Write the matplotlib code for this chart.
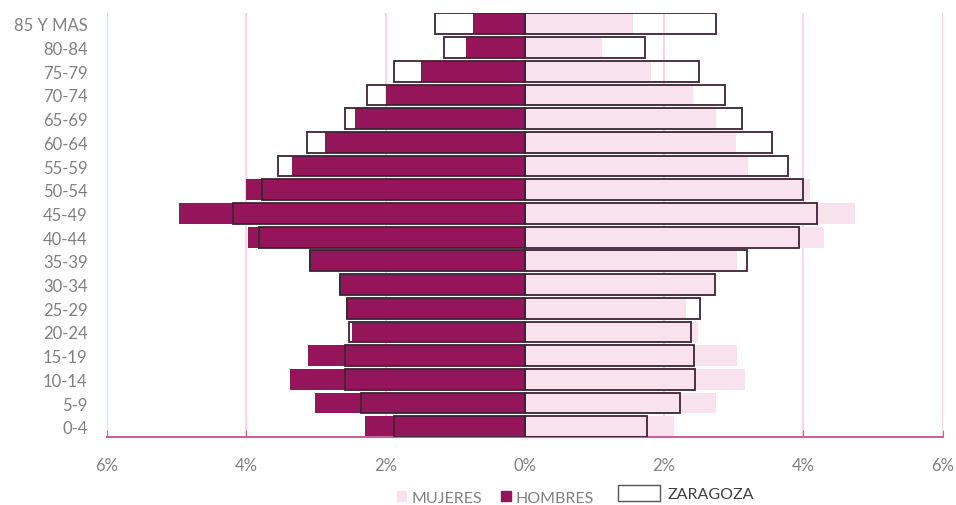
import matplotlib.pyplot as plt
from matplotlib.patches import Patch
import numpy as np

plt.rcParams['font.family'] = ['Lato', 'DejaVu Sans']

edades = ['0-4', '5-9', '10-14', '15-19', '20-24', '25-29', '30-34', '35-39',
          '40-44', '45-49', '50-54', '55-59', '60-64', '65-69', '70-74',
          '75-79', '80-84', '85 Y MAS']

# porcentaje sobre el total (barrio)
hombres = [2.29, 3.01, 3.37, 3.11, 2.48, 2.57, 2.67, 3.10, 3.97, 4.97,
           4.01, 3.34, 2.87, 2.44, 1.99, 1.49, 0.84, 0.75]
mujeres = [2.14, 2.75, 3.16, 3.05, 2.48, 2.31, 2.72, 3.05, 4.29, 4.74,
           4.09, 3.20, 3.03, 2.75, 2.42, 1.81, 1.11, 1.56]

# Zaragoza
zgz_hombres = [1.88, 2.36, 2.59, 2.58, 2.53, 2.56, 2.66, 3.08, 3.82, 4.19,
               3.77, 3.55, 3.13, 2.59, 2.27, 1.88, 1.16, 1.29]
zgz_mujeres = [1.75, 2.23, 2.44, 2.43, 2.39, 2.52, 2.73, 3.19, 3.94, 4.19,
               3.99, 3.78, 3.55, 3.12, 2.87, 2.50, 1.73, 2.74]

c_hom = '#94155a'
c_muj = '#f7e2ee'
c_grid = '#fbcde3'
c_eje = '#c9609a'
c_txt = '#808080'
c_borde = '#3d2434'

y = np.arange(len(edades))
h = 0.88

fig = plt.figure(figsize=(9.56, 5.06), dpi=100)
ax = fig.add_axes([0.112, 0.134, 0.874, 0.838])

ax.barh(y, -np.array(hombres), height=h, color=c_hom, zorder=2)
ax.barh(y, mujeres, height=h, color=c_muj, zorder=2)
ax.barh(y, -np.array(zgz_hombres), height=h, facecolor='none',
        edgecolor=c_borde, linewidth=1.3, zorder=3)
ax.barh(y, zgz_mujeres, height=h, facecolor='none',
        edgecolor=c_borde, linewidth=1.3, zorder=3)

ax.set_xlim(-6, 6)
ax.set_ylim(-0.44, len(edades) - 0.55)
xt = [-6, -4, -2, 0, 2, 4, 6]
ax.set_xticks(xt)
ax.set_xticklabels([f'{abs(v)}%' for v in xt], color=c_txt, fontsize=12)
ax.set_yticks(y)
ax.set_yticklabels(edades, color=c_txt, fontsize=12)
ax.tick_params(axis='y', length=0, pad=14)
ax.tick_params(axis='x', direction='in', length=5, color=c_eje, pad=14)

for v in [-6, -4, -2, 2, 4, 6]:
    ax.axvline(v, color=c_grid, lw=1.2, zorder=1)

for s in ['top', 'right', 'left']:
    ax.spines[s].set_visible(False)
ax.spines['bottom'].set_color(c_eje)
ax.spines['bottom'].set_linewidth(1.5)

fig.legend(handles=[Patch(color=c_muj, label='MUJERES'),
                    Patch(color=c_hom, label='HOMBRES')],
           loc='center', bbox_to_anchor=(0.518, 0.014), ncol=2,
           frameon=False, fontsize=11.5, handlelength=0.6,
           handleheight=0.6, handletextpad=0.3, columnspacing=1.2,
           labelcolor=c_txt)
fig.legend(handles=[Patch(facecolor='white', edgecolor='#555555',
                          label='ZARAGOZA')],
           loc='center', bbox_to_anchor=(0.718, 0.024), frameon=False,
           fontsize=11.5, handlelength=2.6, handleheight=1.2,
           handletextpad=0.5, labelcolor='#404040')

fig.savefig('out.png', dpi=100)
